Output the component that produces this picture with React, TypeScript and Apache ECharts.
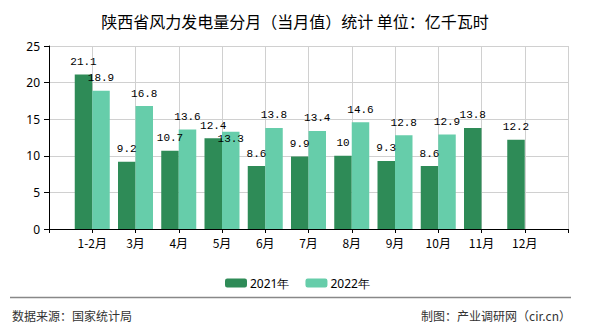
import React, { useEffect, useRef } from "react";
import * as echarts from "echarts";

const categories = ["1-2月", "3月", "4月", "5月", "6月", "7月", "8月", "9月", "10月", "11月", "12月"];
const values2021 = [21.1, 9.2, 10.7, 12.4, 8.6, 9.9, 10, 9.3, 8.6, 13.8, 12.2];
const values2022: (number | null)[] = [18.9, 16.8, 13.6, 13.3, 13.8, 13.4, 14.6, 12.8, 12.9, null, null];
const seriesNames = ["2021年", "2022年"];
const yTicks = { min: 0, max: 25, interval: 5 };

const titleText = "陕西省风力发电量分月（当月值）统计 单位：亿千瓦时";
const sourceText = "数据来源：国家统计局";
const makerText = "制图：产业调研网（cir.cn）";

export default function App() {
  const ref = useRef<HTMLDivElement>(null);
  useEffect(() => {
    if (!ref.current) return;
    const chart = echarts.init(ref.current, undefined, { renderer: "svg" });
    const axisCats = ["", ...categories, ""];
    const labelFont = { fontFamily: "Liberation Mono, DejaVu Sans Mono, monospace", fontSize: 11, color: "#000" };
    const d2021 = [null, ...values2021, null];
    const d2022 = [null, ...values2022, null].map((v, i) =>
      v === 13.3 && axisCats[i] === "5月" ? { value: v, label: { offset: [0, 20] } } : v
    );
    chart.setOption({
      animation: false,
      title: {
        text: titleText,
        left: "center",
        top: 8,
        textStyle: { fontSize: 16, fontWeight: "normal", color: "#000", fontFamily: "Noto Sans CJK SC" },
      },
      legend: {
        data: seriesNames,
        left: 220,
        top: 272,
        itemWidth: 22,
        itemHeight: 9,
        itemGap: 16,
        textStyle: { fontSize: 12, color: "#000", fontFamily: "Noto Sans, Arial, sans-serif", padding: [0, 0, 0, -2] },
      },
      grid: { left: 49, right: 22, top: 46, bottom: 101, containLabel: false },
      xAxis: {
        type: "category",
        data: axisCats,
        boundaryGap: false,
        axisLine: { lineStyle: { color: "#000", width: 1 } },
        axisTick: { show: true, length: 4, interval: 0, lineStyle: { color: "#000" } },
        axisLabel: { interval: 0, margin: 7, fontSize: 12, color: "#000", fontFamily: "Noto Sans CJK SC" },
        splitLine: { show: true, interval: 0, lineStyle: { color: "#d0d0d0" } },
      },
      yAxis: {
        type: "value",
        min: yTicks.min,
        max: yTicks.max,
        interval: yTicks.interval,
        axisLine: { show: true, lineStyle: { color: "#000", width: 1 } },
        axisTick: { show: true, length: 5, lineStyle: { color: "#000" } },
        axisLabel: { margin: 9, fontSize: 12, color: "#000", fontFamily: "Noto Sans, Arial, sans-serif" },
        splitLine: { show: true, lineStyle: { color: "#d0d0d0" } },
      },
      series: [
        {
          name: seriesNames[0],
          type: "bar",
          data: d2021,
          barWidth: 17.5,
          barGap: "0%",
          itemStyle: { color: "#2E8B57" },
          label: { show: true, position: "top", distance: 7, ...labelFont },
        },
        {
          name: seriesNames[1],
          type: "bar",
          data: d2022,
          barWidth: 17.5,
          barGap: "0%",
          itemStyle: { color: "#66CDAA" },
          label: { show: true, position: "top", distance: 7, ...labelFont },
        },
      ],
      graphic: [
        { type: "line", shape: { x1: 10, y1: 297.5, x2: 571, y2: 297.5 }, style: { stroke: "#888", lineWidth: 1.5 } },
        {
          type: "text",
          x: 12,
          y: 315,
          style: { text: sourceText, fontSize: 12, fill: "#333", fontFamily: "Noto Sans CJK SC", textVerticalAlign: "middle" },
        },
        {
          type: "text",
          x: 571,
          y: 315,
          style: { text: makerText, fontSize: 12, fill: "#333", fontFamily: "Noto Sans CJK SC", textAlign: "right", textVerticalAlign: "middle" },
        },
      ],
    });
    return () => chart.dispose();
  }, []);
  return <div ref={ref} style={{ width: 590, height: 330, position: "absolute", left: 0, top: 0 }} />;
}
